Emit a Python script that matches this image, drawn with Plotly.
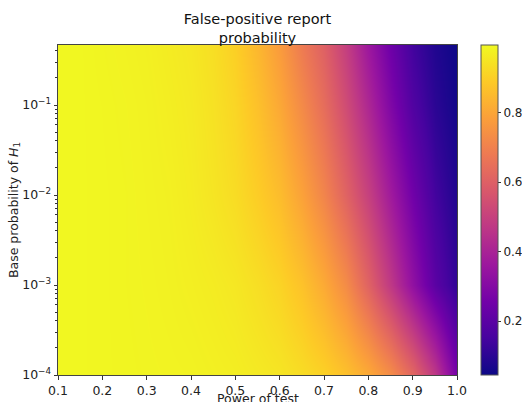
import plotly.graph_objects as go

# Power of test (x) and base probability of H1 (y)
power = [0.10, 0.15, 0.20, 0.25, 0.30, 0.35, 0.40, 0.45, 0.50, 0.55,
         0.60, 0.65, 0.70, 0.75, 0.80, 0.85, 0.90, 0.95, 1.00]
base_prob = [1e-4, 1e-3, 1e-2, 1e-1, 0.5]

# False-positive report probability, one row per base probability
fprp_1e4 = [0.990, 0.990, 0.988, 0.986, 0.984, 0.982, 0.980, 0.975, 0.970, 0.960,
            0.950, 0.930, 0.905, 0.865, 0.810, 0.730, 0.620, 0.470, 0.260]
fprp_1e3 = [0.990, 0.990, 0.988, 0.985, 0.982, 0.978, 0.972, 0.965, 0.955, 0.935,
            0.910, 0.870, 0.810, 0.730, 0.610, 0.470, 0.330, 0.200, 0.110]
fprp_1e2 = [0.990, 0.990, 0.988, 0.985, 0.980, 0.975, 0.965, 0.950, 0.930, 0.895,
            0.855, 0.790, 0.710, 0.610, 0.500, 0.370, 0.250, 0.145, 0.080]
fprp_1e1 = [0.990, 0.990, 0.987, 0.983, 0.978, 0.970, 0.960, 0.942, 0.915, 0.865,
            0.805, 0.725, 0.640, 0.535, 0.415, 0.285, 0.175, 0.100, 0.055]
fprp_5e1 = [0.990, 0.990, 0.985, 0.980, 0.975, 0.965, 0.955, 0.935, 0.900, 0.840,
            0.770, 0.680, 0.600, 0.490, 0.360, 0.240, 0.140, 0.080, 0.046]

z = [fprp_1e4, fprp_1e3, fprp_1e2, fprp_1e1, fprp_5e1]

y_ticks = [1e-4, 1e-3, 1e-2, 1e-1]
y_ticktext = ["10<sup>\u22124</sup>", "10<sup>\u22123</sup>", "10<sup>\u22122</sup>", "10<sup>\u22121</sup>"]
y_minor = [k * 10.0 ** e for e in (-4, -3, -2, -1) for k in range(2, 10)]
cbar_ticks = [0.2, 0.4, 0.6, 0.8]

font = "DejaVu Sans"

fig = go.Figure(
    go.Heatmap(
        x=power, y=base_prob, z=z,
        colorscale="Plasma", zmin=0.045, zmax=0.995,
        zsmooth="best",
        colorbar=dict(
            x=1.06, xanchor="left", xref="paper", xpad=0,
            y=0.5, yanchor="middle", len=1.0, lenmode="fraction", ypad=0,
            thickness=17, outlinewidth=1, outlinecolor="#555",
            tickvals=cbar_ticks, ticks="outside", ticklen=3,
            tickcolor="#333", tickfont=dict(family=font, size=12, color="#222"),
        ),
    )
)

fig.update_layout(
    width=522, height=402,
    margin=dict(l=58, r=65, t=45, b=27, autoexpand=False),
    paper_bgcolor="white", plot_bgcolor="white",
    title=dict(
        text="False-positive report<br>probability",
        x=0.5, xref="paper", xanchor="center",
        y=0.941, yref="container", yanchor="top",
        font=dict(family=font, size=14.5, color="#111"),
    ),
    font=dict(family=font, size=12.5, color="#222"),
    xaxis=dict(
        range=[0.1, 1.0], dtick=0.1, tick0=0.1, tickformat=".1f",
        ticks="outside", ticklen=3.5, tickcolor="#333",
        showline=True, linecolor="#444", linewidth=1, mirror=True,
        showgrid=False, zeroline=False, automargin=False,
        tickfont=dict(family=font, size=12.5, color="#222"),
    ),
    yaxis=dict(
        type="log", range=[-4, -0.333],
        tickvals=y_ticks, ticktext=y_ticktext,
        ticks="outside", ticklen=3.5, tickcolor="#333",
        minor=dict(tickvals=y_minor, ticks="outside", ticklen=2, tickcolor="#333", showgrid=False),
        showline=True, linecolor="#444", linewidth=1, mirror=True,
        showgrid=False, zeroline=False, automargin=True,
        title=dict(text="Base probability of <i>H</i><sub>1</sub>", font=dict(family=font, size=12.5), standoff=0),
        tickfont=dict(family=font, size=12.5, color="#222"),
    ),
    annotations=[
        dict(
            text="Power of test", xref="paper", yref="paper", x=0.5, y=0,
            xanchor="center", yanchor="top", yshift=-14, showarrow=False,
            font=dict(family=font, size=12.5, color="#222"),
        )
    ],
)

# remove the page's default body margin so the figure fills the window exactly
fig.write_html(
    "out.html",
    config={"displayModeBar": False},
    post_script="document.body.style.margin='0';document.body.style.overflow='hidden';",
)
